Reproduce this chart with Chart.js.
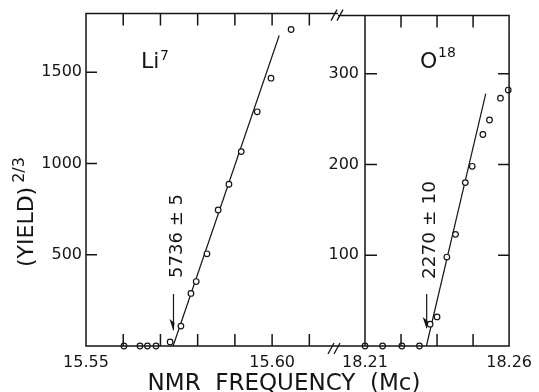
<!DOCTYPE html>
<html>
<head>
<meta charset="utf-8">
<script src="https://cdn.jsdelivr.net/npm/chart.js@4.4.1/dist/chart.umd.min.js"></script>
<style>
  html, body { margin: 0; padding: 0; background: #fff; }
  #wrap { position: relative; width: 539px; height: 392px; }
  #wrap canvas { position: absolute; left: 0; top: 0; }
</style>
</head>
<body>
<div id="wrap">
  <canvas id="liChart" width="539" height="392"></canvas>
  <canvas id="oChart" width="539" height="392"></canvas>
</div>
<script>
// Li7 panel: NMR frequency (Mc) against (yield)^(2/3)
const liFreq  = [15.5602, 15.5645, 15.5665, 15.5688, 15.5726, 15.5755, 15.5782, 15.5796, 15.5825, 15.5855, 15.5884, 15.5917, 15.5960, 15.5997, 15.6051];
const liYield = [0, 0, 0, 0, 22, 109, 288, 353, 505, 745, 886, 1065, 1283, 1467, 1734];
const liFitFreq  = [15.5734, 15.6019];
const liFitYield = [0, 1701];
const liThreshold = 15.5735;

// O18 panel
const oFreq  = [18.2100, 18.2161, 18.2228, 18.2289, 18.2326, 18.2350, 18.2384, 18.2414, 18.2448, 18.2472, 18.2509, 18.2532, 18.2570, 18.2597];
const oYield = [0, 0, 0, 0, 24, 32, 98, 123, 180, 198, 233, 249, 273, 282];
const oFitFreq  = [18.2313, 18.2519];
const oFitYield = [0, 278];
const oThreshold = 18.2314;

// ticks
const liXTicks  = [15.55, 15.56, 15.57, 15.58, 15.59, 15.60, 15.61];
const liXLabels = ['15.55', '', '', '', '', '15.60', ''];
const liYTicks  = [500, 1000, 1500];
const oXTicks   = [18.21, 18.2225, 18.235, 18.2475, 18.26];
const oXLabels  = ['18.21', '', '', '', '18.26'];
const oYTicks   = [100, 200, 300];

const ink = '#151515';
const FONT = 'DejaVu Sans';
Chart.defaults.font.family = FONT;
Chart.defaults.color = ink;

function pts(xs, ys) {
    return xs.map((x, i) => ({x: x, y: ys[i]}));
}

function rotText(ctx, txt, x, y, align) {
    ctx.save();
    ctx.translate(x, y);
    ctx.rotate(-Math.PI / 2);
    ctx.textAlign = align || 'center';
    ctx.fillText(txt, 0, 0);
    ctx.restore();
}

function arrow(ctx, x, y0, y1) {
    ctx.beginPath();
    ctx.moveTo(x, y0);
    ctx.lineTo(x, y1);
    ctx.stroke();
    ctx.beginPath();
    ctx.moveTo(x, y1 + 1);
    ctx.lineTo(x - 4, y1 - 11);
    ctx.lineTo(x + 1, y1 - 7);
    ctx.closePath();
    ctx.fill();
}

function slashes(ctx, cx, cy) {
    ctx.beginPath();
    [-3, 3].forEach(d => {
        ctx.moveTo(cx + d - 3, cy + 6);
        ctx.lineTo(cx + d + 3, cy - 5);
    });
    ctx.stroke();
}

const liFrame = {
    id: 'liFrame',
    afterDraw(chart) {
        const {ctx, chartArea: a, scales: {x, y}} = chart;
        ctx.save();
        ctx.strokeStyle = ink;
        ctx.fillStyle = ink;
        ctx.lineWidth = 1.5;
        ctx.beginPath();
        ctx.moveTo(a.right, a.top);
        ctx.lineTo(a.left, a.top);
        ctx.lineTo(a.left, a.bottom);
        ctx.lineTo(a.right, a.bottom);
        liYTicks.forEach(v => {
            const p = y.getPixelForValue(v);
            ctx.moveTo(a.left, p); ctx.lineTo(a.left + 11, p);
        });
        liXTicks.slice(1).forEach(v => {
            const p = x.getPixelForValue(v);
            ctx.moveTo(p, a.top); ctx.lineTo(p, a.top + 12);
            ctx.moveTo(p, a.bottom); ctx.lineTo(p, a.bottom - 12);
        });
        ctx.stroke();

        ctx.lineWidth = 1.3;
        slashes(ctx, a.right - 1, a.top + 1);
        slashes(ctx, a.right - 4, a.bottom + 2);

        // threshold arrow and label
        const tx = x.getPixelForValue(liThreshold);
        ctx.lineWidth = 1.2;
        arrow(ctx, tx, a.bottom - 52, a.bottom - 16);
        ctx.font = '18px ' + FONT;
        rotText(ctx, '5736 \u00b1 5', tx + 9, 236);

        // panel label
        ctx.font = '22px ' + FONT;
        ctx.textAlign = 'left';
        ctx.fillText('Li', 141, 68);
        ctx.font = '14px ' + FONT;
        ctx.fillText('7', 160, 60);

        // axis titles
        ctx.font = '22px ' + FONT;
        ctx.save();
        ctx.translate(33, 267);
        ctx.rotate(-Math.PI / 2);
        ctx.textAlign = 'left';
        const w = ctx.measureText('(YIELD)').width;
        ctx.fillText('(YIELD)', 0, 0);
        ctx.font = '16px ' + FONT;
        ctx.fillText('2/3', w + 4, -9);
        ctx.restore();

        ctx.font = '23px ' + FONT;
        ctx.textAlign = 'center';
        ctx.fillText('NMR  FREQUENCY  (Mc)', 284, 390);
        ctx.restore();
    }
};

const oFrame = {
    id: 'oFrame',
    afterDraw(chart) {
        const {ctx, chartArea: a, scales: {x, y}} = chart;
        const breakX = 338;
        ctx.save();
        ctx.strokeStyle = ink;
        ctx.fillStyle = ink;
        ctx.lineWidth = 1.5;
        ctx.beginPath();
        ctx.moveTo(breakX, a.top); ctx.lineTo(a.right, a.top);
        ctx.lineTo(a.right, a.bottom); ctx.lineTo(breakX, a.bottom);
        ctx.moveTo(a.left, a.top); ctx.lineTo(a.left, a.bottom);
        oYTicks.forEach(v => {
            const p = y.getPixelForValue(v);
            ctx.moveTo(a.left, p); ctx.lineTo(a.left + 12, p);
            ctx.moveTo(a.right, p); ctx.lineTo(a.right - 11, p);
        });
        oXTicks.slice(1, -1).forEach(v => {
            const p = x.getPixelForValue(v);
            ctx.moveTo(p, a.top); ctx.lineTo(p, a.top + 12);
            ctx.moveTo(p, a.bottom); ctx.lineTo(p, a.bottom - 12);
        });
        ctx.stroke();

        const tx = x.getPixelForValue(oThreshold);
        ctx.lineWidth = 1.2;
        arrow(ctx, tx, a.bottom - 52, a.bottom - 18);
        ctx.font = '18.5px ' + FONT;
        rotText(ctx, '2270 \u00b1 10', tx + 8, 230);

        ctx.font = '22px ' + FONT;
        ctx.textAlign = 'left';
        ctx.fillText('O', 420, 68);
        ctx.font = '14px ' + FONT;
        ctx.fillText('18', 438, 57);
        ctx.restore();
    }
};

function makePanel(id, cfg) {
    return new Chart(document.getElementById(id), {
        type: 'scatter',
        data: {
            datasets: [
                {
                    data: pts(cfg.fitX, cfg.fitY),
                    showLine: true,
                    pointRadius: 0,
                    borderColor: ink,
                    borderWidth: 1.2,
                    clip: false,
                    order: 2
                },
                {
                    data: pts(cfg.xs, cfg.ys),
                    pointRadius: 2.8,
                    pointBorderWidth: 1.2,
                    pointBackgroundColor: '#fff',
                    pointBorderColor: ink,
                    backgroundColor: '#fff',
                    borderColor: ink,
                    clip: false,
                    order: 1
                }
            ]
        },
        options: {
            responsive: false,
            animation: false,
            devicePixelRatio: 1,
            layout: { autoPadding: false, padding: cfg.padding },
            plugins: { legend: { display: false }, tooltip: { enabled: false }, title: { display: false } },
            scales: {
                x: {
                    type: 'linear',
                    min: cfg.xMin,
                    max: cfg.xMax,
                    grid: { display: false, drawTicks: false },
                    border: { display: false },
                    afterBuildTicks: s => { s.ticks = cfg.xTicks.map(v => ({value: v})); },
                    afterFit: s => { s.height = 46; },
                    ticks: {
                        autoSkip: false,
                        maxRotation: 0,
                        padding: 7,
                        font: { size: 16 },
                        callback: (v, i) => cfg.xLabels[i]
                    }
                },
                y: {
                    min: 0,
                    max: cfg.yMax,
                    grid: { display: false, drawTicks: false },
                    border: { display: false },
                    afterBuildTicks: s => { s.ticks = cfg.yTicks.map(v => ({value: v})); },
                    afterFit: s => { s.width = cfg.yWidth; },
                    ticks: {
                        padding: cfg.yPad,
                        font: { size: 16 },
                        callback: v => String(v)
                    }
                }
            }
        },
        plugins: [cfg.frame]
    });
}

makePanel('liChart', {
    xs: liFreq, ys: liYield, fitX: liFitFreq, fitY: liFitYield,
    xMin: 15.55, xMax: 15.6177, yMax: 1821,
    xTicks: liXTicks, xLabels: liXLabels, yTicks: liYTicks,
    yWidth: 86, yPad: 4,
    padding: { left: 0, top: 11, right: 201, bottom: 0 },
    frame: liFrame
});

makePanel('oChart', {
    xs: oFreq, ys: oYield, fitX: oFitFreq, fitY: oFitYield,
    xMin: 18.21, xMax: 18.26, yMax: 364,
    xTicks: oXTicks, xLabels: oXLabels, yTicks: oYTicks,
    yWidth: 40, yPad: 6,
    padding: { left: 325, top: 11, right: 26, bottom: 0 },
    frame: oFrame
});
</script>
</body>
</html>
